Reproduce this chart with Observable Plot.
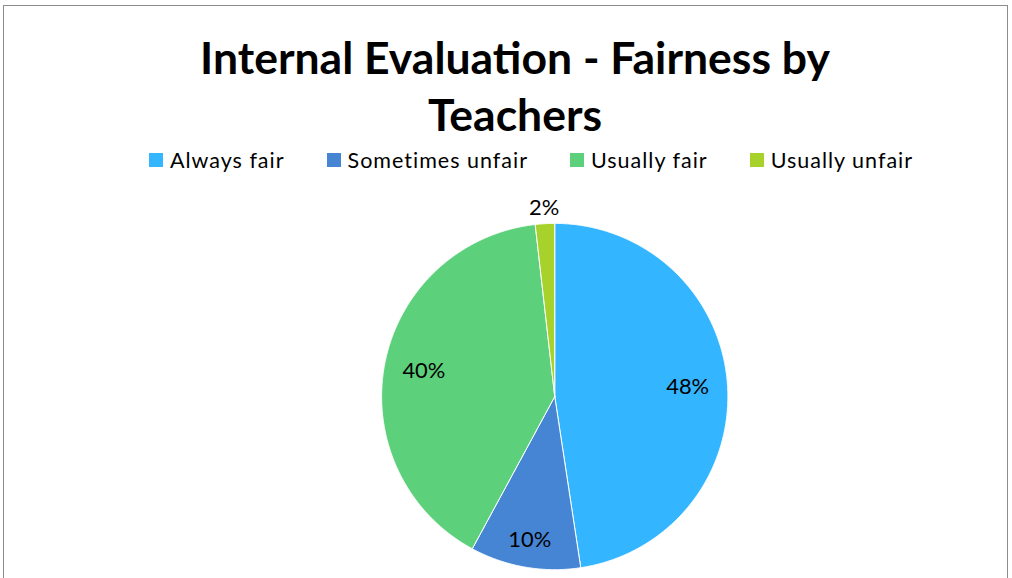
<!DOCTYPE html>
<html>
<head>
<meta charset="utf-8">
<script src="https://cdn.jsdelivr.net/npm/d3@7"></script>
<script src="https://cdn.jsdelivr.net/npm/@observablehq/plot@0.6"></script>
<style>
  html, body { margin: 0; padding: 0; background: #fff; width: 1012px; height: 578px; overflow: hidden; }
  #frame { position: absolute; left: 3px; top: 5px; width: 1005px; height: 640px; border: 1px solid #8c8c8c; box-sizing: border-box; font-family: Lato, "Open Sans", sans-serif; color: #000; }
  #title { position: absolute; left: 0; top: 22px; width: 1022px; text-align: center; font-weight: bold; font-size: 44.5px; line-height: 57px; }
  #legend { position: absolute; left: 0; top: 142px; width: 1054px; display: flex; justify-content: center; align-items: center; font-size: 21.5px; line-height: 24px; letter-spacing: 1px; }
  .item { display: flex; align-items: center; margin: 0 21px; }
  .sw { width: 14px; height: 14px; margin-right: 7px; }
  #chart { position: absolute; left: -4px; top: -6px; }
</style>
</head>
<body>
<div id="frame">
  <div id="chart"></div>
  <div id="title">Internal Evaluation - Fairness by<br>Teachers</div>
  <div id="legend"></div>
</div>
<script>
const categories = ["Always fair", "Sometimes unfair", "Usually fair", "Usually unfair"];
const values = [47.6, 10.3, 40.3, 1.8];
const labels = ["48%", "10%", "40%", "2%"];
const colors = ["#33b5ff", "#4585d4", "#5dd07b", "#a6d22b"];

// legend
const legend = document.getElementById("legend");
categories.forEach((c, i) => {
  const it = document.createElement("div");
  it.className = "item";
  it.innerHTML = `<div class="sw" style="background:${colors[i]}"></div><span>${c}</span>`;
  legend.appendChild(it);
});

// pie geometry from data
const arcs = d3.pie().sort(null).value(d => d.value)(categories.map((c, i) => ({category: c, value: values[i], label: labels[i]})));
const poly = [];
arcs.forEach(a => {
  const n = Math.max(2, Math.ceil((a.endAngle - a.startAngle) / 0.005));
  poly.push({category: a.data.category, x: 0, y: 0});
  for (let k = 0; k <= n; k++) {
    const t = a.startAngle + (a.endAngle - a.startAngle) * k / n;
    poly.push({category: a.data.category, x: Math.sin(t), y: Math.cos(t)});
  }
  poly.push({category: a.data.category, x: 0, y: 0});
});
// label radius: small slices pushed outward (outside if tiny)
const labelPts = arcs.map(a => {
  const m = (a.startAngle + a.endAngle) / 2;
  const v = a.data.value;
  const r = v < 5 ? 1.09 : v < 20 ? 0.84 : 0.77;
  return {x: r * Math.sin(m), y: r * Math.cos(m), label: a.data.label};
});

const W = 1012, H = 578;
const cx = 557, cy = 398, R = 174;
const chart = Plot.plot({
  width: W,
  height: H,
  marginLeft: cx - R,
  marginRight: W - (cx + R),
  marginTop: cy - R,
  marginBottom: H - (cy + R),
  x: {domain: [-1, 1], axis: null},
  y: {domain: [-1, 1], axis: null},
  color: {domain: categories, range: colors},
  style: {fontFamily: "Lato, 'Open Sans', sans-serif", background: "transparent", overflow: "visible"},
  marks: [
    Plot.line(poly, {x: "x", y: "y", z: "category", fill: "category", stroke: "white", strokeWidth: 1, curve: "linear-closed"}),
    Plot.text(labelPts, {x: "x", y: "y", text: "label", fontSize: 22, fill: "black"})
  ]
});
document.getElementById("chart").appendChild(chart);
</script>
</body>
</html>
